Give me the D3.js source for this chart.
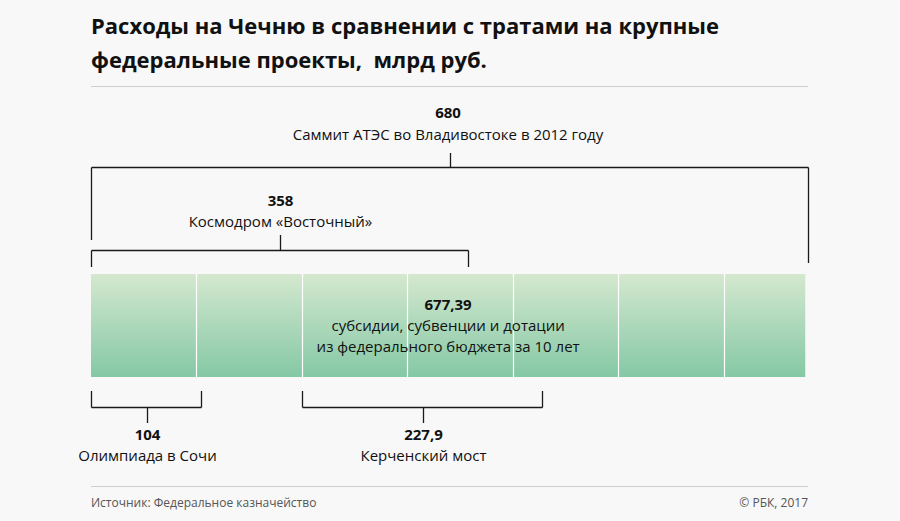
<!DOCTYPE html>
<html><head><meta charset="utf-8">
<script src="https://cdn.jsdelivr.net/npm/d3@7"></script>
<style>
html,body{margin:0;padding:0;background:#f8f8f8;}
svg{display:block;font-family:"Open Sans",sans-serif;}
text{white-space:pre;}
</style></head>
<body><svg id="c" width="900" height="521"></svg>
<script>
const titleLines = ["Расходы на Чечню в сравнении с тратами на крупные", "федеральные проекты,  млрд руб."];
const barValue = 677.39;
const barValueLabel = "677,39";
const barLabelLines = ["субсидии, субвенции и дотации", "из федерального бюджета за 10 лет"];
const gridStep = [100, 200, 300, 400, 500, 600];
const bracketNames = ["Саммит АТЭС во Владивостоке в 2012 году", "Космодром «Восточный»", "Олимпиада в Сочи", "Керченский мост"];
const bracketValues = [680, 358, 104, 227.9];
const bracketStarts = [0, 0, 0, 200];
const bracketLabels = ["680", "358", "104", "227,9"];
const source = "Источник: Федеральное казначейство";
const credit = "© РБК, 2017";

const svg = d3.select("#c");
const x = d3.scaleLinear().domain([0, 680]).range([91, 808]);

const defs = svg.append("defs");
const g = defs.append("linearGradient").attr("id","gr").attr("x1",0).attr("y1",0).attr("x2",0).attr("y2",1);
g.append("stop").attr("offset","0%").attr("stop-color","#d4e8cf");
g.append("stop").attr("offset","100%").attr("stop-color","#85c8a5");

const t = svg.append("text").attr("x",91).attr("y",34).attr("font-size",22).attr("font-weight","bold").attr("fill","#111");
titleLines.forEach((l,i)=>t.append("tspan").attr("x",91).attr("dy", i?34:0).text(l));

svg.append("line").attr("x1",91).attr("x2",808).attr("y1",86.5).attr("y2",86.5).attr("stroke","#cfcfcf");

const barTop = 274, barBot = 377;
svg.append("rect").attr("x",x(0)).attr("y",barTop).attr("width",x(barValue)-x(0)).attr("height",barBot-barTop).attr("fill","url(#gr)");
svg.selectAll(".grid").data(gridStep).join("line")
  .attr("x1",d=>Math.round(x(d))+0.5).attr("x2",d=>Math.round(x(d))+0.5)
  .attr("y1",barTop).attr("y2",barBot).attr("stroke","#fff").attr("stroke-width",1.2);

const cx = (x(0)+x(barValue))/2;
svg.append("text").attr("x",cx).attr("y",310).attr("text-anchor","middle").attr("font-size",15).attr("font-weight","bold").attr("fill","#111").text(barValueLabel);
barLabelLines.forEach((l,i)=>svg.append("text").attr("x",cx).attr("y",331+i*21).attr("text-anchor","middle").attr("font-size",15).attr("fill","#111").text(l));

const cfg = [
  {hy:167.5, tickTop:153, legEnd:[240,263], valY:118, nameY:140, above:true},
  {hy:250.5, tickTop:235, legEnd:[267,267], valY:206, nameY:227, above:true},
  {hy:407.5, tickBot:423, legStart:391, valY:440, nameY:461, above:false},
  {hy:407.5, tickBot:423, legStart:391, valY:440, nameY:461, above:false}
];
bracketValues.forEach((v,i)=>{
  const c = cfg[i];
  const x0 = Math.round(x(bracketStarts[i]))+0.5, x1 = Math.round(x(bracketStarts[i]+v))+0.5;
  const m = Math.round((x0+x1)/2)+0.5;
  const gg = svg.append("g").attr("stroke","#1a1a1a").attr("stroke-width",1.3).attr("fill","none");
  gg.append("line").attr("x1",x0).attr("x2",x1).attr("y1",c.hy).attr("y2",c.hy);
  if (c.above) {
    gg.append("line").attr("x1",x0).attr("x2",x0).attr("y1",c.hy).attr("y2",c.legEnd[0]);
    gg.append("line").attr("x1",x1).attr("x2",x1).attr("y1",c.hy).attr("y2",c.legEnd[1]);
    gg.append("line").attr("x1",m).attr("x2",m).attr("y1",c.tickTop).attr("y2",c.hy);
  } else {
    gg.append("line").attr("x1",x0).attr("x2",x0).attr("y1",c.legStart).attr("y2",c.hy);
    gg.append("line").attr("x1",x1).attr("x2",x1).attr("y1",c.legStart).attr("y2",c.hy);
    gg.append("line").attr("x1",m).attr("x2",m).attr("y1",c.hy).attr("y2",c.tickBot);
  }
  const lx = i===0 ? 448 : m;
  svg.append("text").attr("x",lx).attr("y",c.valY).attr("text-anchor","middle").attr("font-size",15).attr("font-weight","bold").attr("fill","#111").text(bracketLabels[i]);
  svg.append("text").attr("x",lx).attr("y",c.nameY).attr("text-anchor","middle").attr("font-size",15).attr("fill","#111").text(bracketNames[i]);
});

svg.append("line").attr("x1",91).attr("x2",808).attr("y1",486.5).attr("y2",486.5).attr("stroke","#cfcfcf");
svg.append("text").attr("x",91).attr("y",507).attr("font-size",12).attr("fill","#555").text(source);
svg.append("text").attr("x",808).attr("y",507).attr("text-anchor","end").attr("font-size",12).attr("fill","#555").text(credit);
</script></body></html>
